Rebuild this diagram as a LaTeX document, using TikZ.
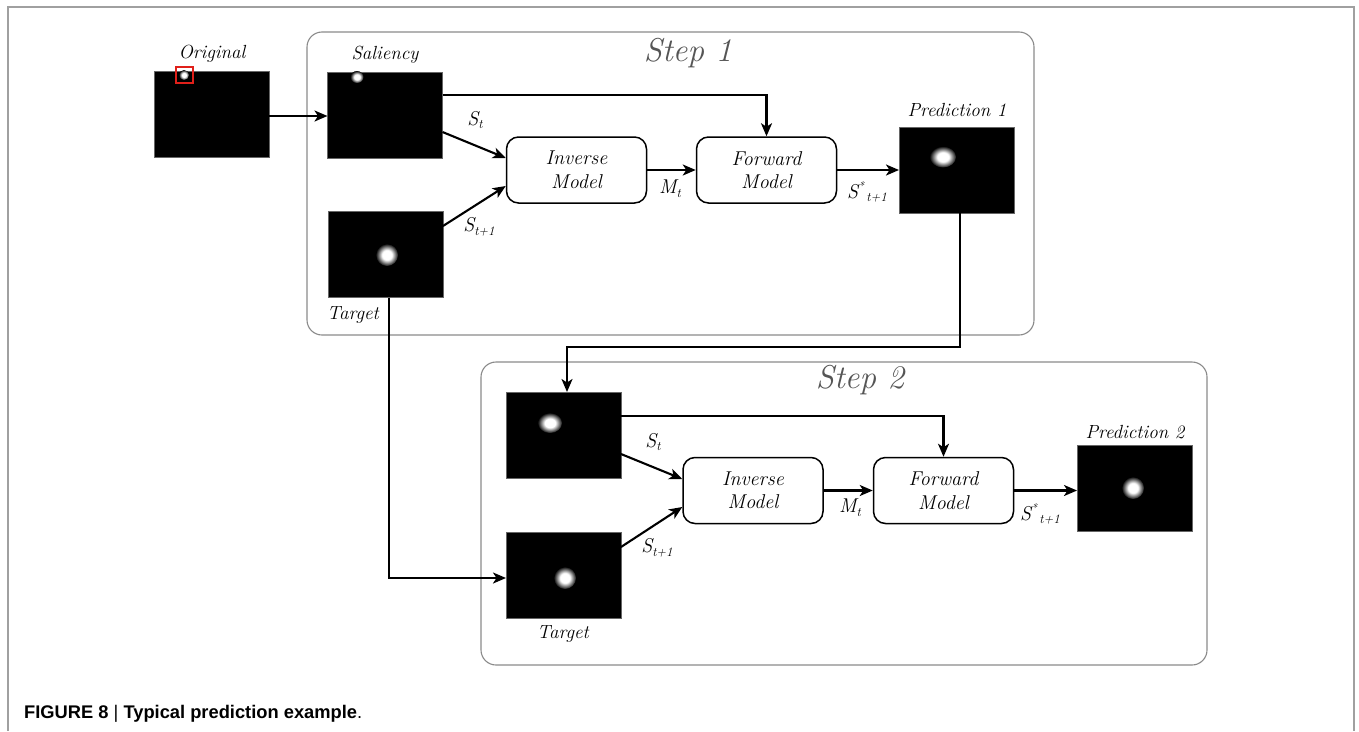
\documentclass[tikz,border=0pt]{standalone}
\usepackage{fontspec}
\newfontfamily\capfont{Liberation Sans}
\usetikzlibrary{arrows.meta}
\definecolor{framegray}{HTML}{A0A0A0}
\definecolor{boxgray}{HTML}{8A8A8A}
\definecolor{steptext}{HTML}{555555}
\definecolor{redmark}{HTML}{E0201A}
\pgfdeclareradialshading{glow}{\pgfpoint{0bp}{0bp}}{color(0bp)=(white); color(11bp)=(white); color(26bp)=(black); color(50bp)=(black)}
\newcommand\mysub[1]{\raisebox{-0.45ex}{\fontsize{13}{13}\selectfont #1}}
\newcommand\mysup[1]{\raisebox{0.9ex}{\fontsize{12}{12}\selectfont #1}}
\tikzset{
  img/.style={draw=black!60, fill=black, line width=0.6pt, inner sep=0pt, outer sep=0pt, minimum width=115pt, minimum height=86pt},
  model/.style={draw=black, line width=1.5pt, rounded corners=12pt, fill=white, inner sep=0pt, minimum width=140pt, minimum height=66pt, align=center, font=\fontsize{20}{23.5}\selectfont\itshape},
  stepbox/.style={draw=boxgray, line width=1.1pt, rounded corners=15pt},
  lbl/.style={font=\fontsize{19}{22}\selectfont\itshape, inner sep=0pt},
  sym/.style={font=\fontsize{20}{22}\selectfont\itshape, inner sep=0pt},
  steplbl/.style={font=\fontsize{33}{36}\selectfont\itshape, text=steptext, inner sep=0pt, anchor=base},
  arr/.style={line width=2.1pt, -{Stealth[length=13pt,width=11pt,inset=3.5pt]}},
  blob/.style={shading=glow}
}
\begin{document}
\begin{tikzpicture}[x=1pt,y=-1pt]
\useasboundingbox (0,0) rectangle (1359,731);
% outer frame
\draw[framegray, line width=1.6pt] (8,731) -- (8,7) -- (1354,7) -- (1354,731);
% step boxes
\draw[stepbox] (307,32) rectangle (1034,335);
\draw[stepbox] (481,362) rectangle (1207,665);
\node[steplbl] (step1) at (688,61) {Step 1};
\node[steplbl] (step2) at (860,388) {Step 2};
% images
\node[img] (orig) at (211.5,114.5) {};
\node[img] (sal) at (385,115) {};
\node[img] (tgt1) at (385.5,254.5) {};
\node[img] (pred1) at (956.5,170) {};
\node[img] (sal2) at (563.5,435) {};
\node[img] (tgt2) at (563.5,575.5) {};
\node[img] (pred2) at (1134.5,488.5) {};
% blobs
\shade[blob] (184,75) circle (5);
\draw[redmark, line width=1.4pt] (176,67) rectangle (193,83);
\shade[blob] (357,77) ellipse (6.5 and 6);
\shade[blob] (387,255) circle (11);
\shade[blob] (943,157) ellipse (13 and 10.5);
\shade[blob] (550,423) ellipse (12 and 10);
\shade[blob] (565,578) circle (11);
\shade[blob] (1133,488) circle (11);
% image labels
\node[lbl] (lorig) at (212,54) {Original};
\node[lbl] (lsal) at (385,55) {Saliency};
\node[lbl] (ltgt1) at (353,315) {Target};
\node[lbl] (lpred1) at (957,110) {Prediction 1};
\node[lbl] (ltgt2) at (563,634) {Target};
\node[lbl] (lpred2) at (1135,432) {Prediction 2};
% models
\node[model] (inv1) at (576.5,170) {Inverse\\Model};
\node[model] (fwd1) at (766.5,170) {Forward\\Model};
\node[model] (inv2) at (753,490.5) {Inverse\\Model};
\node[model] (fwd2) at (943.5,490.5) {Forward\\Model};
% connectors step 1
\draw[arr] (orig.east |- 0,116) -- (sal.west |- 0,116);
\draw[arr] ([yshift=20pt]sal.east) -| (fwd1.north);
\draw[arr] ([yshift=-17pt]sal.east) -- ([yshift=12pt]inv1.west);
\draw[arr] ([yshift=28.5pt]tgt1.east) -- ([yshift=-16pt]inv1.west);
\draw[arr] (inv1.east) -- (fwd1.west);
\draw[arr] (fwd1.east) -- (pred1.west);
\node[sym] (st1) at (475,120) {S\mysub{t}};
\node[sym] (st1p) at (479,227) {S\mysub{t+1}};
\node[sym] (mt1) at (670,189) {M\mysub{t}};
\node[sym] (ss1) at (867,192) {S\mysup{*}\mysub{\,t+1}};
% between steps
\coordinate (k1) at (760,347);
\draw[arr] ([xshift=3.5pt]pred1.south) |- (k1) -| ([xshift=3.5pt]sal2.north);
\draw[arr] ([xshift=3.5pt]tgt1.south) |- ([yshift=-2.5pt]tgt2.west);
% connectors step 2
\draw[arr] ([yshift=19pt]sal2.east) -| (fwd2.north);
\draw[arr] ([yshift=-19pt]sal2.east) -- ([yshift=11.5pt]inv2.west);
\draw[arr] ([yshift=28.5pt]tgt2.east) -- ([yshift=-16.5pt]inv2.west);
\draw[arr] (inv2.east) -- (fwd2.west);
\draw[arr] (fwd2.east) -- (pred2.west |- fwd2.east);
\node[sym] (st2) at (653,442) {S\mysub{t}};
\node[sym] (st2p) at (657,548) {S\mysub{t+1}};
\node[sym] (mt2) at (850,508) {M\mysub{t}};
\node[sym] (ss2) at (1040,514) {S\mysup{*}\mysub{\,t+1}};
% caption
\node[anchor=base west, inner sep=0pt, font=\capfont\fontsize{18.3}{21}\selectfont] (cap) at (24,718)
  {\textbf{FIGURE 8} | \textbf{Typical prediction example}.};
\end{tikzpicture}
\end{document}
